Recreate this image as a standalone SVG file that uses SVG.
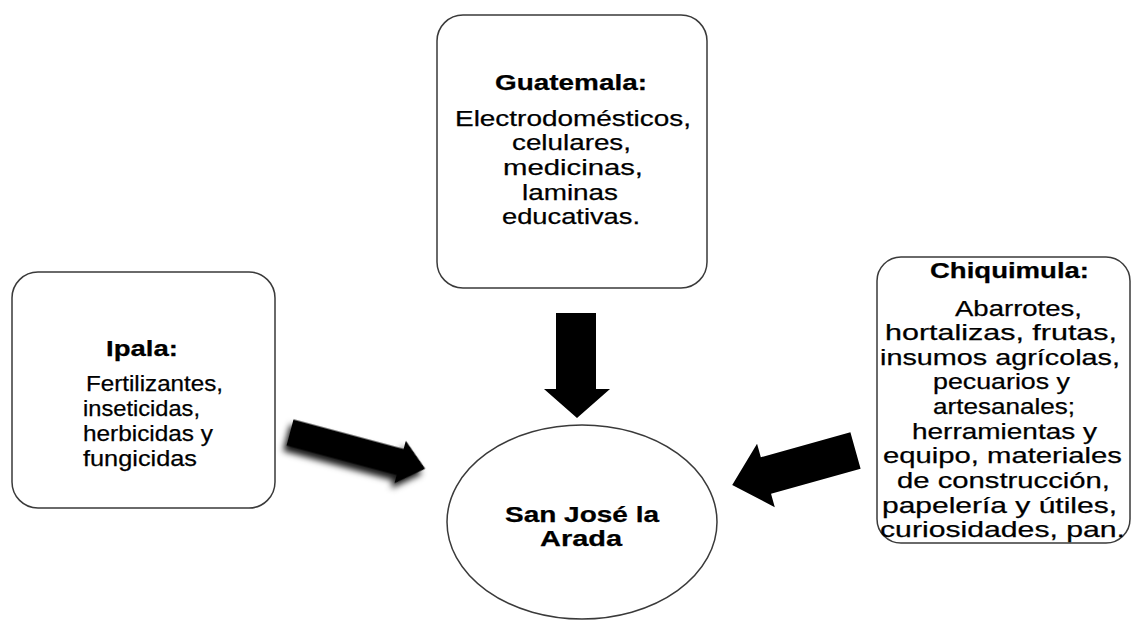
<svg xmlns="http://www.w3.org/2000/svg" width="1133" height="624" viewBox="0 0 1133 624">
<defs>
<style>
.box{fill:#fff;stroke:#3a3a3a;stroke-width:1.5}
.t{font-family:"Liberation Sans",Arial,sans-serif;font-size:22px;fill:#000;stroke:#000;stroke-width:0.25}
.b{font-weight:bold;font-size:22px}
.arrow{fill:#000}
</style>
<filter id="sh" x="-20%" y="-30%" width="140%" height="180%">
<feDropShadow dx="-2" dy="6" stdDeviation="3" flood-color="#000" flood-opacity="0.9"/>
</filter>
</defs>
<rect width="1133" height="624" fill="#fff"/>
<g id="guatemala">
<rect class="box" x="437" y="15" width="270" height="273" rx="26"/>
<text class="t b" x="495" y="90" textLength="152" lengthAdjust="spacingAndGlyphs">Guatemala:</text>
<text class="t" x="455" y="126" textLength="236" lengthAdjust="spacingAndGlyphs">Electrodomésticos,</text>
<text class="t" x="512" y="150" textLength="119" lengthAdjust="spacingAndGlyphs">celulares,</text>
<text class="t" x="503" y="175" textLength="140" lengthAdjust="spacingAndGlyphs">medicinas,</text>
<text class="t" x="522" y="200" textLength="96" lengthAdjust="spacingAndGlyphs">laminas</text>
<text class="t" x="502" y="224" textLength="138" lengthAdjust="spacingAndGlyphs">educativas.</text>
</g>
<g id="ipala">
<rect class="box" x="12" y="272" width="263" height="236" rx="26"/>
<text class="t b" x="106" y="356" textLength="72" lengthAdjust="spacingAndGlyphs">Ipala:</text>
<text class="t" x="86" y="391" textLength="137" lengthAdjust="spacingAndGlyphs">Fertilizantes,</text>
<text class="t" x="83" y="416" textLength="117" lengthAdjust="spacingAndGlyphs">inseticidas,</text>
<text class="t" x="83" y="441" textLength="130" lengthAdjust="spacingAndGlyphs">herbicidas y</text>
<text class="t" x="83" y="466" textLength="114" lengthAdjust="spacingAndGlyphs">fungicidas</text>
</g>
<g id="chiquimula">
<rect class="box" x="877" y="257" width="253" height="286" rx="24"/>
<text class="t b" x="930" y="278" textLength="159" lengthAdjust="spacingAndGlyphs">Chiquimula:</text>
<text class="t" x="955" y="316" textLength="127" lengthAdjust="spacingAndGlyphs">Abarrotes,</text>
<text class="t" x="885" y="340" textLength="232" lengthAdjust="spacingAndGlyphs">hortalizas, frutas,</text>
<text class="t" x="880" y="365" textLength="240" lengthAdjust="spacingAndGlyphs">insumos agrícolas,</text>
<text class="t" x="933" y="389" textLength="137" lengthAdjust="spacingAndGlyphs">pecuarios y</text>
<text class="t" x="933" y="414" textLength="142" lengthAdjust="spacingAndGlyphs">artesanales;</text>
<text class="t" x="912" y="439" textLength="185" lengthAdjust="spacingAndGlyphs">herramientas y</text>
<text class="t" x="883" y="463" textLength="239" lengthAdjust="spacingAndGlyphs">equipo, materiales</text>
<text class="t" x="897" y="488" textLength="213" lengthAdjust="spacingAndGlyphs">de construcción,</text>
<text class="t" x="882" y="513" textLength="235" lengthAdjust="spacingAndGlyphs">papelería y útiles,</text>
<text class="t" x="880" y="537" textLength="245" lengthAdjust="spacingAndGlyphs">curiosidades, pan.</text>
</g>
<g id="san-jose">
<ellipse class="box" cx="582" cy="522" rx="135" ry="97"/>
<text class="t b" x="505" y="522" textLength="154" lengthAdjust="spacingAndGlyphs">San José la</text>
<text class="t b" x="540" y="546" textLength="82" lengthAdjust="spacingAndGlyphs">Arada</text>
</g>
<g id="connectors">
<polygon class="arrow" points="556,313 596,313 596,389 610,389 577,418 544,389 556,389"/>
<polygon class="arrow" filter="url(#sh)" points="0,-13.5 114,-13.5 114,-22 140,0 114,22 114,13.5 0,13.5" transform="translate(290,432.5) rotate(15)"/>
<polygon class="arrow" points="0,-19 93,-19 93,-33 128,0 93,33 93,19 0,19" transform="translate(855.5,450.5) rotate(164.4)"/>
</g>
</svg>
